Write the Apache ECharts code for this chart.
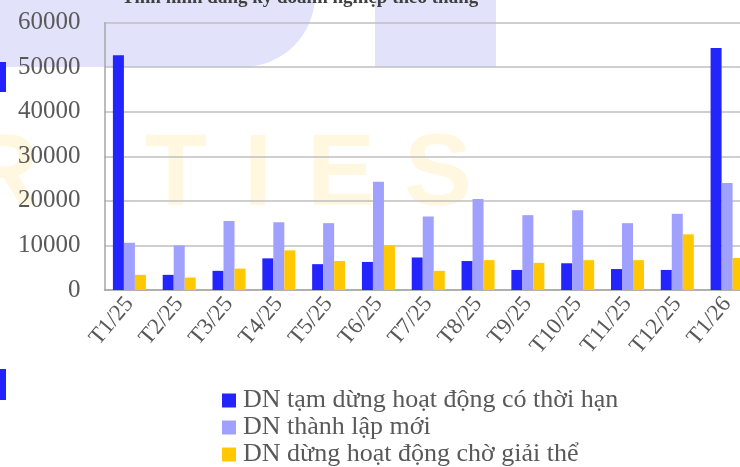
<!DOCTYPE html>
<html>
<head>
<meta charset="utf-8">
<script src="https://cdn.jsdelivr.net/npm/echarts@6/dist/echarts.min.js"></script>
<style>html,body{margin:0;padding:0;background:#fff;}#c{width:740px;height:467px;}</style>
</head>
<body>
<div id="c"></div>
<script>
const categories = ['T1/25','T2/25','T3/25','T4/25','T5/25','T6/25','T7/25','T8/25','T9/25','T10/25','T11/25','T12/25','T1/26'];
const seriesNames = ['DN tạm dừng hoạt động có thời hạn','DN thành lập mới','DN dừng hoạt động chờ giải thể'];
const tamDung = [52700, 3400, 4300, 7100, 5800, 6300, 7300, 6500, 4500, 6000, 4700, 4500, 54300];
const thanhLap = [10600, 10000, 15500, 15200, 15000, 24300, 16500, 20400, 16800, 17900, 15000, 17100, 24000];
const choGiaiThe = [3400, 2800, 4800, 8900, 6500, 10000, 4300, 6700, 6100, 6700, 6700, 12500, 7200];
const yTicks = [0, 10000, 20000, 30000, 40000, 50000, 60000];
const titleText = 'Tình hình đăng ký doanh nghiệp theo tháng';

const colors = ['#2424ff', '#a0a0ff', '#ffc800'];
const serif = '"Liberation Serif", "Times New Roman", serif';
const chart = echarts.init(document.getElementById('c'), null, {renderer: 'canvas'});
const wmYellow = '#fff7df';
const wmFont = 'bold 102px "Liberation Sans", Arial, sans-serif';
const wmLetters = [['R', 2], ['T', 176], ['I', 258], ['E', 341], ['S', 438]];
chart.setOption({
  animation: false,
  backgroundColor: '#fff',
  graphic: [
    {type: 'rect', z: -10, shape: {x: -10, y: -60, width: 325, height: 127, r: [0, 0, 72, 0]}, style: {fill: '#e2e2fb'}},
    {type: 'rect', z: -10, shape: {x: 375, y: -10, width: 121, height: 77}, style: {fill: '#e2e2fb'}},
    {type: 'rect', z: -10, shape: {x: 0, y: 62, width: 6, height: 30}, style: {fill: '#2323ff'}},
    {type: 'rect', z: -10, shape: {x: 0, y: 369, width: 6, height: 31}, style: {fill: '#2323ff'}}
  ].concat(wmLetters.map(([t, x]) => ({
    type: 'text', z: -9, style: {x: x, y: 177, text: t, fill: wmYellow, font: wmFont, align: 'center', verticalAlign: 'middle'}
  }))).concat([
    {type: 'text', z: 10, style: {x: 300, y: 8, text: titleText, fill: '#404040', font: 'bold 19px ' + serif, align: 'center', verticalAlign: 'bottom'}}
  ]),
  grid: {left: 104.5, top: 22.7, bottom: 177, right: -12, containLabel: false, outerBoundsMode: 'none'},
  legend: {
    orient: 'vertical', left: 222, top: 387, height: 90, padding: 0, itemWidth: 14, itemHeight: 14, itemGap: 0,
    icon: 'rect', data: seriesNames,
    textStyle: {fontFamily: serif, fontSize: 26, color: '#595959', lineHeight: 27, padding: [0, 0, 0, 2]}
  },
  xAxis: {
    type: 'category', data: categories,
    axisLine: {lineStyle: {color: '#a6a6a6', width: 1.5}},
    axisTick: {show: false},
    axisLabel: {rotate: 50, interval: 0, fontFamily: serif, fontSize: 23, color: '#595959', margin: 10}
  },
  yAxis: {
    type: 'value', min: yTicks[0], max: yTicks[yTicks.length - 1], interval: 10000,
    axisLine: {show: true, lineStyle: {color: '#a6a6a6', width: 1.5}},
    axisTick: {show: false},
    splitLine: {lineStyle: {color: '#bfbfbf', width: 1.5}},
    axisLabel: {fontFamily: serif, fontSize: 25, color: '#595959', margin: 24, formatter: v => String(v)}
  },
  series: [tamDung, thanhLap, choGiaiThe].map((d, i) => ({
    name: seriesNames[i], type: 'bar', data: d, barWidth: 11, barGap: '0%',
    itemStyle: {color: colors[i]}
  }))
});
</script>
</body>
</html>
